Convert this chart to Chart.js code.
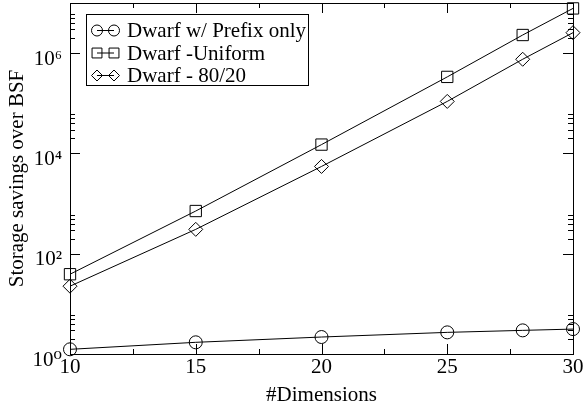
<!DOCTYPE html>
<html lang="en">
<head>
<meta charset="UTF-8">
<title>Storage savings over BSF</title>
<script src="https://cdn.jsdelivr.net/npm/chart.js"></script>
<style>
  * { margin: 0; padding: 0; box-sizing: border-box; }
  body { background: #fff; }
</style>
</head>
<body>
<canvas id="savingsChart" width="583" height="410"></canvas>
<script>
// Data
const dimensions = [10, 15, 20, 25, 28, 30];
const prefixOnly = [1.24, 1.71, 2.18, 2.7, 2.96, 3.14];
const uniform = [39, 710, 15000, 336000, 2300000, 7800000];
const skewed8020 = [22.5, 306, 5500, 109000, 755000, 2560000];
const seriesNames = ['Dwarf w/ Prefix only', 'Dwarf -Uniform', 'Dwarf - 80/20'];
const seriesMarkers = ['circle', 'rect', 'rectRot'];

// Tick values / labels
const xMajorTicks = [10, 15, 20, 25, 30];
const xMinorTicks = [12.5, 17.5, 22.5, 27.5];
const yMajorTicks = [1, 100, 10000, 1000000];
const yTickLabels = ['10⁰', '10²', '10⁴', '10⁶'];
const yMinorTicks = [2, 3, 4, 5, 6, 200, 300, 400, 500, 600,
    20000, 30000, 40000, 50000, 60000, 2000000, 3000000, 4000000, 5000000, 6000000];

const FONT = '"Liberation Serif", "DejaVu Serif", serif';

function toPoints(values) {
    return dimensions.map((d, i) => ({ x: d, y: values[i] }));
}

function makeDataset(label, values, marker, radius) {
    return {
        label: label,
        data: toPoints(values),
        borderColor: '#000',
        borderWidth: 1,
        backgroundColor: 'rgba(0,0,0,0)',
        pointStyle: marker,
        pointRadius: radius,
        pointBorderColor: '#000',
        pointBorderWidth: 1,
        pointBackgroundColor: 'rgba(0,0,0,0)',
        fill: false,
        tension: 0,
        clip: false
    };
}

function drawMarker(ctx, style, x, y, r) {
    ctx.beginPath();
    if (style === 'circle') {
        ctx.arc(x, y, r, 0, Math.PI * 2);
    } else if (style === 'rect') {
        const s = r * Math.SQRT1_2;
        ctx.rect(x - s, y - s, 2 * s, 2 * s);
    } else {
        ctx.moveTo(x - r, y);
        ctx.lineTo(x, y - r);
        ctx.lineTo(x + r, y);
        ctx.lineTo(x, y + r);
        ctx.closePath();
    }
    ctx.stroke();
}

// frame + inward ticks on all four sides
const framePlugin = {
    id: 'frameTicks',
    afterDraw(chart) {
        const ctx = chart.ctx;
        const a = chart.chartArea;
        const xs = chart.scales.x, ys = chart.scales.y;
        ctx.save();
        ctx.strokeStyle = '#000';
        ctx.lineWidth = 1;
        ctx.strokeRect(Math.round(a.left) + 0.5, Math.round(a.top) + 0.5,
            Math.round(a.right - a.left), Math.round(a.bottom - a.top));
        ctx.beginPath();
        const xTick = (v, len) => {
            const px = Math.round(xs.getPixelForValue(v)) + 0.5;
            ctx.moveTo(px, a.bottom); ctx.lineTo(px, a.bottom - len);
            ctx.moveTo(px, a.top); ctx.lineTo(px, a.top + len);
        };
        const yTick = (v, len) => {
            const py = Math.round(ys.getPixelForValue(v)) + 0.5;
            ctx.moveTo(a.left, py); ctx.lineTo(a.left + len, py);
            ctx.moveTo(a.right, py); ctx.lineTo(a.right - len, py);
        };
        xMajorTicks.forEach(v => xTick(v, 10));
        xMinorTicks.forEach(v => xTick(v, 5));
        yMajorTicks.forEach(v => yTick(v, 10));
        yMinorTicks.forEach(v => yTick(v, 5));
        ctx.stroke();
        ctx.restore();
    }
};

// boxed legend, symbol = line with a marker at each end
const legendPlugin = {
    id: 'boxLegend',
    afterDraw(chart) {
        const ctx = chart.ctx;
        ctx.save();
        ctx.strokeStyle = '#000';
        ctx.lineWidth = 1;
        ctx.strokeRect(86.5, 14.5, 222, 71);
        ctx.font = '21px ' + FONT;
        ctx.fillStyle = '#000';
        ctx.textBaseline = 'middle';
        const rows = [30.5, 53, 75.5];
        chart.data.datasets.forEach((ds, i) => {
            const y = rows[i];
            ctx.beginPath();
            ctx.moveTo(97, y); ctx.lineTo(114, y);
            ctx.stroke();
            drawMarker(ctx, ds.pointStyle, 97, y, ds.pointStyle === 'rect' ? 7 : 5.5);
            drawMarker(ctx, ds.pointStyle, 114, y, ds.pointStyle === 'rect' ? 7 : 5.5);
            ctx.fillText(ds.label, 127, y + 1);
        });
        ctx.restore();
    }
};

new Chart(document.getElementById('savingsChart'), {
    type: 'line',
    data: {
        datasets: [
            makeDataset(seriesNames[0], prefixOnly, seriesMarkers[0], 6.5),
            makeDataset(seriesNames[1], uniform, seriesMarkers[1], 8),
            makeDataset(seriesNames[2], skewed8020, seriesMarkers[2], 7)
        ]
    },
    options: {
        responsive: false,
        devicePixelRatio: 1,
        animation: false,
        layout: { autoPadding: false, padding: { top: 3, right: 10, left: 0, bottom: 0 } },
        plugins: {
            legend: { display: false },
            tooltip: { enabled: false }
        },
        scales: {
            x: {
                type: 'linear',
                min: 10,
                max: 30,
                afterBuildTicks: s => { s.ticks = xMajorTicks.map(v => ({ value: v })); },
                ticks: {
                    font: { family: FONT, size: 21 },
                    color: '#000',
                    padding: 1,
                    maxRotation: 0,
                    autoSkip: false
                },
                grid: { display: false, drawTicks: false },
                border: { display: false },
                title: {
                    display: true,
                    text: '#Dimensions',
                    font: { family: FONT, size: 21 },
                    color: '#000',
                    padding: { top: 0, bottom: 2 }
                },
                afterFit: s => {
                    s.height = 56;
                    s.paddingLeft = 0;
                    s.paddingRight = 0;
                }
            },
            y: {
                type: 'logarithmic',
                min: 1,
                max: 10000000,
                afterBuildTicks: s => { s.ticks = yMajorTicks.map(v => ({ value: v })); },
                ticks: {
                    font: { family: FONT, size: 21 },
                    color: '#000',
                    padding: 8,
                    labelOffset: 6,
                    autoSkip: false,
                    callback: v => {
                        const i = yMajorTicks.indexOf(v);
                        return i >= 0 ? yTickLabels[i] : '';
                    }
                },
                grid: { display: false, drawTicks: false },
                border: { display: false },
                title: {
                    display: true,
                    text: 'Storage savings over BSF',
                    font: { family: FONT, size: 21 },
                    color: '#000',
                    padding: { top: 5, bottom: 0 }
                },
                afterFit: s => {
                    s.width = 70;
                    s.paddingTop = 0;
                    s.paddingBottom = 0;
                }
            }
        }
    },
    plugins: [framePlugin, legendPlugin]
});
</script>
</body>
</html>
